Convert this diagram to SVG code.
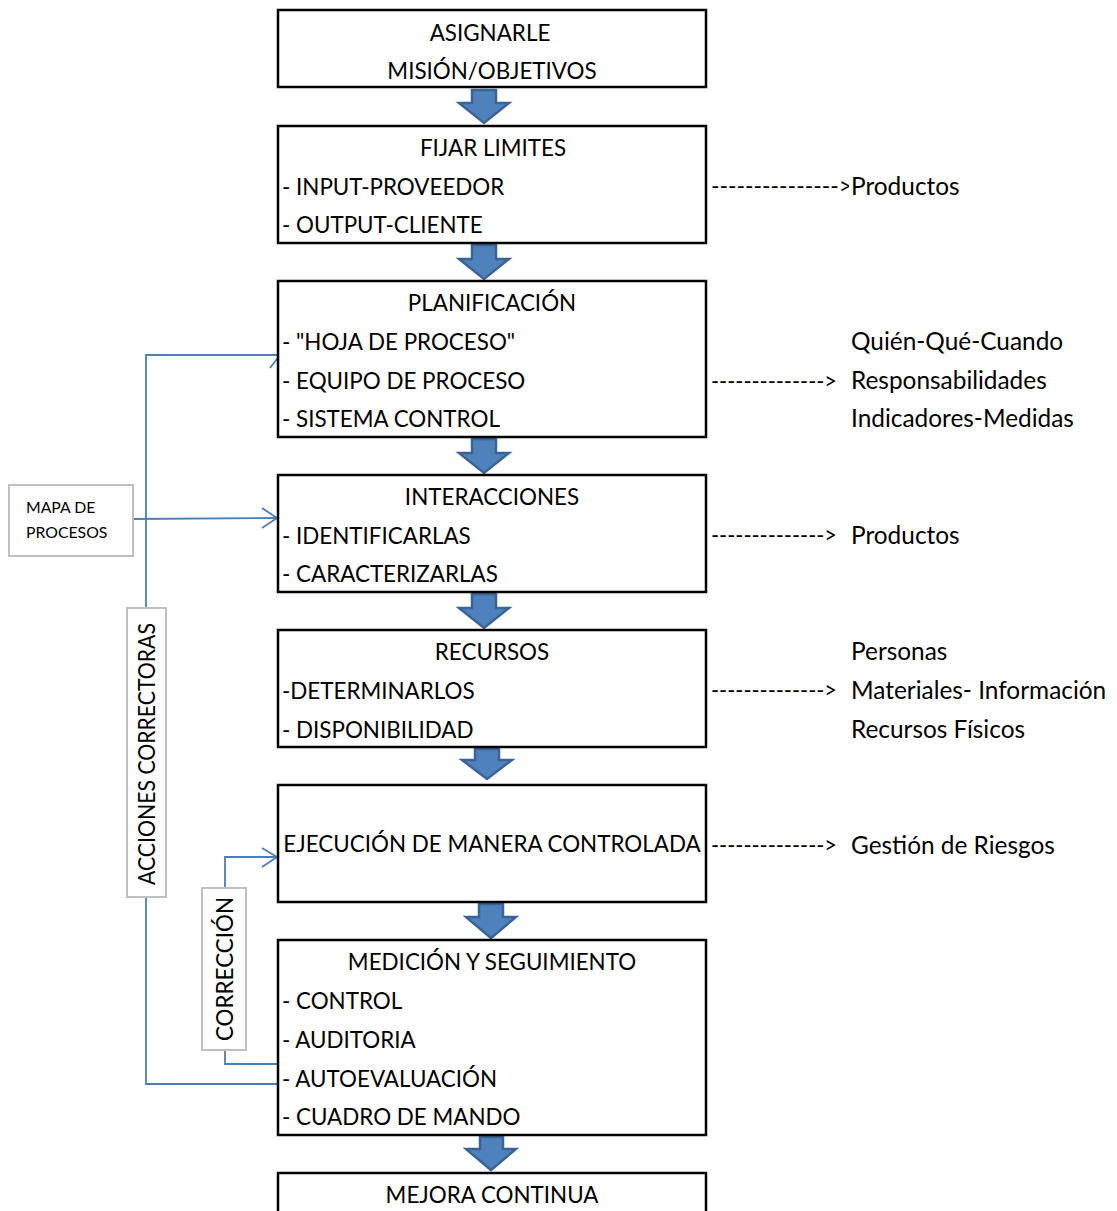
<svg xmlns="http://www.w3.org/2000/svg" width="1117" height="1211" viewBox="0 0 1117 1211">
  <style>
    .box { fill: #ffffff; stroke: #000000; stroke-width: 2.5; }
    .gbox { fill: #ffffff; stroke: #c0c0c0; stroke-width: 2; }
    .t { font-family: Lato, "Open Sans", sans-serif; font-size: 22.4px; fill: #000000; }
    .r { font-family: Lato, "Open Sans", sans-serif; font-size: 24.4px; fill: #000000; }
    .c { text-anchor: middle; }
    .small { font-family: Lato, "Open Sans", sans-serif; font-size: 15.8px; fill: #000000; }
    .blk { fill: #4f81bd; stroke: #3b6496; stroke-width: 2.5; stroke-linejoin: miter; }
    .link { fill: none; stroke: #4a7ebb; stroke-width: 1.8; }
  </style>
  <defs>
    <clipPath id="clipFirst"><rect x="700" y="160" width="149" height="50"/></clipPath>
  </defs>
  <rect width="1117" height="1211" fill="#ffffff"/>

  <!-- side feedback connectors (drawn under the boxes) -->
  <g id="connectors">
    <!-- acciones correctoras loop -->
    <polyline class="link" points="280,1084 146,1084 146,355 280,355"/>
    <polyline class="link" points="270,368 280,355 288,368"/>
    <!-- mapa de procesos -->
    <line class="link" x1="133" y1="519" x2="277" y2="518"/>
    <polyline class="link" points="262,508 277,518 262,528"/>
    <!-- correccion loop -->
    <polyline class="link" points="282,1064 225,1064 225,857 277,857"/>
    <polyline class="link" points="262,848 277,857 262,867"/>

    <!-- block arrows between steps -->
    <polygon class="blk" points="472,90 496,90 496,103 509,103 484,123 459,103 472,103"/>
    <polygon class="blk" points="472,245 496,245 496,259 509,259 484,279 459,259 472,259"/>
    <polygon class="blk" points="472,439 496,439 496,453 509,453 484,473 459,453 472,453"/>
    <polygon class="blk" points="472,594 496,594 496,608 509,608 484,628 459,608 472,608"/>
    <polygon class="blk" points="475,749 499,749 499,760 512,760 487,779 462,760 475,760"/>
    <polygon class="blk" points="479,904 503,904 503,917 516,917 491,938 466,917 479,917"/>
    <polygon class="blk" points="480,1137 503,1137 503,1149 516,1149 491,1170 466,1149 480,1149"/>

    <!-- dashed text pointers -->
    <text class="t" x="711" y="194" clip-path="url(#clipFirst)" textLength="141" lengthAdjust="spacingAndGlyphs">---------------&gt;</text>
    <text class="t" x="711" y="389" textLength="126" lengthAdjust="spacingAndGlyphs">--------------&gt;</text>
    <text class="t" x="711" y="543" textLength="126" lengthAdjust="spacingAndGlyphs">--------------&gt;</text>
    <text class="t" x="711" y="698" textLength="126" lengthAdjust="spacingAndGlyphs">--------------&gt;</text>
    <text class="t" x="711" y="853" textLength="126" lengthAdjust="spacingAndGlyphs">--------------&gt;</text>
  </g>

  <g id="mapa-procesos">
    <rect class="gbox" x="9" y="485" width="124" height="71"/>
    <text class="small" x="26" y="513">MAPA DE</text>
    <text class="small" x="26" y="538">PROCESOS</text>
  </g>

  <g id="acciones-correctoras">
    <rect class="gbox" x="127" y="608" width="39" height="289"/>
    <text class="t c" transform="translate(155,754) rotate(-90)" textLength="262" lengthAdjust="spacingAndGlyphs">ACCIONES CORRECTORAS</text>
  </g>

  <g id="correccion">
    <rect class="gbox" x="202" y="888" width="44" height="162"/>
    <text class="t c" transform="translate(233,969) rotate(-90)">CORRECCIÓN</text>
  </g>

  <g id="asignarle">
    <rect class="box" x="278" y="10" width="428" height="77"/>
    <text class="t c" x="490" y="41">ASIGNARLE</text>
    <text class="t c" x="492" y="79">MISIÓN/OBJETIVOS</text>
  </g>

  <g id="fijar-limites">
    <rect class="box" x="278" y="126" width="428" height="117"/>
    <text class="t c" x="493" y="156">FIJAR LIMITES</text>
    <text class="t" x="282" y="195">- INPUT-PROVEEDOR</text>
    <text class="t" x="282" y="233">- OUTPUT-CLIENTE</text>
    <text class="r" x="851" y="195">Productos</text>
  </g>

  <g id="planificacion">
    <rect class="box" x="278" y="281" width="428" height="156"/>
    <text class="t c" x="492" y="311">PLANIFICACIÓN</text>
    <text class="t" x="282" y="350">- "HOJA DE PROCESO"</text>
    <text class="t" x="282" y="389">- EQUIPO DE PROCESO</text>
    <text class="t" x="282" y="427">- SISTEMA CONTROL</text>
    <text class="r" x="851" y="350">Quién-Qué-Cuando</text>
    <text class="r" x="851" y="389">Responsabilidades</text>
    <text class="r" x="851" y="427">Indicadores-Medidas</text>
  </g>

  <g id="interacciones">
    <rect class="box" x="278" y="475" width="428" height="117"/>
    <text class="t c" x="492" y="505">INTERACCIONES</text>
    <text class="t" x="282" y="544">- IDENTIFICARLAS</text>
    <text class="t" x="282" y="582">- CARACTERIZARLAS</text>
    <text class="r" x="851" y="544">Productos</text>
  </g>

  <g id="recursos">
    <rect class="box" x="278" y="630" width="428" height="117"/>
    <text class="t c" x="492" y="660">RECURSOS</text>
    <text class="t" x="282" y="699">-DETERMINARLOS</text>
    <text class="t" x="282" y="738">- DISPONIBILIDAD</text>
    <text class="r" x="851" y="660">Personas</text>
    <text class="r" x="851" y="699">Materiales- Información</text>
    <text class="r" x="851" y="738">Recursos Físicos</text>
  </g>

  <g id="ejecucion">
    <rect class="box" x="278" y="785" width="428" height="117"/>
    <text class="t c" x="492" y="852">EJECUCIÓN DE MANERA CONTROLADA</text>
    <text class="r" x="851" y="854">Gestión de Riesgos</text>
  </g>

  <g id="medicion">
    <rect class="box" x="278" y="940" width="428" height="195"/>
    <text class="t c" x="492" y="970">MEDICIÓN Y SEGUIMIENTO</text>
    <text class="t" x="282" y="1009">- CONTROL</text>
    <text class="t" x="282" y="1048">- AUDITORIA</text>
    <text class="t" x="282" y="1087">- AUTOEVALUACIÓN</text>
    <text class="t" x="282" y="1125">- CUADRO DE MANDO</text>
  </g>

  <g id="mejora-continua">
    <rect class="box" x="278" y="1173" width="428" height="60"/>
    <text class="t c" x="492" y="1203">MEJORA CONTINUA</text>
  </g>
</svg>
